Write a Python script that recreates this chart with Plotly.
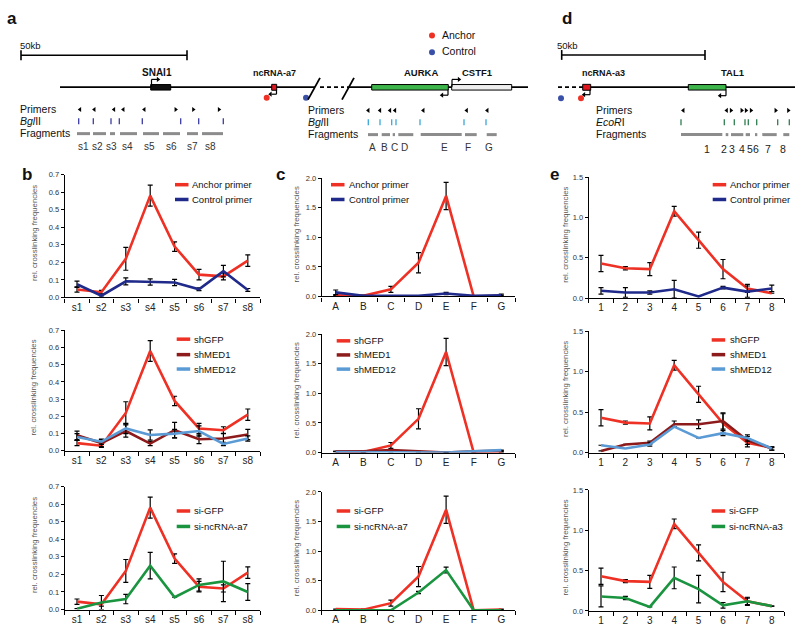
import plotly.graph_objects as go

# ---------------- data ----------------
b_cats = ["s1", "s2", "s3", "s4", "s5", "s6", "s7", "s8"]
b_anchor = [0.045, 0.03, 0.22, 0.58, 0.29, 0.13, 0.12, 0.21]
b_anchor_err = [0.015, 0.01, 0.065, 0.06, 0.027, 0.03, 0.02, 0.033]
b_control = [0.075, 0.01, 0.092, 0.088, 0.085, 0.047, 0.15, 0.043]
b_control_err = [0.018, 0.008, 0.02, 0.018, 0.018, 0.008, 0.033, 0.008]
b_shMED1 = [0.09, 0.045, 0.115, 0.042, 0.12, 0.067, 0.072, 0.095]
b_shMED1_err = [0.025, 0.02, 0.035, 0.012, 0.045, 0.025, 0.03, 0.03]
b_shMED12 = [0.08, 0.053, 0.13, 0.092, 0.1, 0.115, 0.04, 0.072]
b_shMED12_err = [0.02, 0.015, 0.03, 0.03, 0.025, 0.03, 0.01, 0.015]
b_si = [0.005, 0.04, 0.06, 0.25, 0.07, 0.14, 0.16, 0.1]
b_si_err = [0.0, 0.04, 0.027, 0.075, 0.0, 0.035, 0.115, 0.048]

c_cats = ["A", "B", "C", "D", "E", "F", "G"]
c_anchor = [0.02, 0.01, 0.12, 0.57, 1.7, 0.0, 0.01]
c_anchor_err = [0.0, 0.01, 0.05, 0.17, 0.23, 0.0, 0.01]
c_control = [0.07, 0.01, 0.01, 0.01, 0.05, 0.01, 0.02]
c_control_err = [0.04, 0.01, 0.0, 0.0, 0.02, 0.0, 0.02]
c_shMED1 = [0.02, 0.02, 0.04, 0.02, 0.0, 0.02, 0.03]
c_shMED12 = [0.01, 0.01, 0.01, 0.01, 0.0, 0.02, 0.04]
c_zero_err = [0, 0, 0, 0, 0, 0, 0]
c_si = [0.0, 0.0, 0.0, 0.3, 0.68, 0.0, 0.0]
c_si_err = [0, 0, 0, 0.02, 0.05, 0, 0]

e_cats = ["1", "2", "3", "4", "5", "6", "7", "8"]
e_anchor = [0.43, 0.37, 0.36, 1.08, 0.72, 0.36, 0.12, 0.06]
e_anchor_err = [0.1, 0.02, 0.08, 0.06, 0.1, 0.12, 0.05, 0.0]
e_control = [0.09, 0.07, 0.07, 0.11, 0.02, 0.13, 0.08, 0.12]
e_control_err = [0.04, 0.06, 0.02, 0.11, 0.0, 0.015, 0.07, 0.04]
e_shMED1 = [0.02, 0.1, 0.12, 0.35, 0.35, 0.39, 0.15, 0.05]
e_shMED1_err = [0, 0, 0.02, 0.04, 0.055, 0.1, 0.05, 0.02]
e_shMED12 = [0.09, 0.05, 0.1, 0.32, 0.18, 0.24, 0.18, 0.05]
e_shMED12_err = [0, 0, 0.02, 0, 0, 0.03, 0.04, 0.02]
e_si = [0.18, 0.16, 0.05, 0.41, 0.27, 0.07, 0.12, 0.06]
e_si_err = [0.13, 0.02, 0.0, 0.135, 0.17, 0.035, 0.04, 0]

RED = "#EE3124"
NAVY = "#1F2A8A"
MAROON = "#8E1B1B"
LBLUE = "#5B9BD5"
GREEN = "#1B9440"
FONT = "Arial, Liberation Sans, sans-serif"

W, H = 800, 633


def py(p):
    return 1 - p / H


panels = [
    dict(cats=b_cats, ymax=0.7, dtick=0.1, xpx=(64.8, 260), ypx=(173, 297.7),
         series=[("Anchor primer", b_anchor, b_anchor_err, RED),
                 ("Control primer", b_control, b_control_err, NAVY)],
         leg=(175, 190, [183.3, 198.3])),
    dict(cats=b_cats, ymax=0.7, dtick=0.1, xpx=(64.8, 260), ypx=(331, 453.3),
         series=[("shGFP", b_anchor, b_anchor_err, RED),
                 ("shMED1", b_shMED1, b_shMED1_err, MAROON),
                 ("shMED12", b_shMED12, b_shMED12_err, LBLUE)],
         leg=(176.7, 192, [340, 355.7, 370.3])),
    dict(cats=b_cats, ymax=0.7, dtick=0.1, xpx=(64.8, 260), ypx=(489.5, 614.3),
         series=[("si-GFP", b_anchor, b_anchor_err, RED),
                 ("si-ncRNA-a7", b_si, b_si_err, GREEN)],
         leg=(176.7, 192, [514.3, 530])),
    dict(cats=c_cats, ymax=2.0, dtick=0.5, xpx=(321.9, 515.1), ypx=(176.7, 296.7),
         series=[("Anchor primer", c_anchor, c_anchor_err, RED),
                 ("Control primer", c_control, c_control_err, NAVY)],
         leg=(331, 346.5, [183.3, 198.3])),
    dict(cats=c_cats, ymax=2.0, dtick=0.5, xpx=(321.9, 515.1), ypx=(335, 455),
         series=[("shGFP", c_anchor, c_anchor_err, RED),
                 ("shMED1", c_shMED1, c_zero_err, MAROON),
                 ("shMED12", c_shMED12, c_zero_err, LBLUE)],
         leg=(336.7, 352, [341.7, 356, 370.4])),
    dict(cats=c_cats, ymax=2.0, dtick=0.5, xpx=(321.9, 515.1), ypx=(495, 615),
         series=[("si-GFP", c_anchor, c_anchor_err, RED),
                 ("si-ncRNA-a7", c_si, c_si_err, GREEN)],
         leg=(336.7, 351.5, [514.3, 530])),
    dict(cats=e_cats, ymax=1.5, dtick=0.5, xpx=(588.8, 784), ypx=(176, 298.3),
         series=[("Anchor primer", e_anchor, e_anchor_err, RED),
                 ("Control primer", e_control, e_control_err, NAVY)],
         leg=(712.7, 727.5, [183.3, 198.3])),
    dict(cats=e_cats, ymax=1.5, dtick=0.5, xpx=(588.8, 784), ypx=(332, 455),
         series=[("shGFP", e_anchor, e_anchor_err, RED),
                 ("shMED1", e_shMED1, e_shMED1_err, MAROON),
                 ("shMED12", e_shMED12, e_shMED12_err, LBLUE)],
         leg=(711.7, 727.5, [340.8, 355.7, 370.3])),
    dict(cats=e_cats, ymax=1.5, dtick=0.5, xpx=(588.8, 784), ypx=(493, 615.7),
         series=[("si-GFP", e_anchor, e_anchor_err, RED),
                 ("si-ncRNA-a3", e_si, e_si_err, GREEN)],
         leg=(711.7, 726.5, [514.3, 530])),
]

fig = go.Figure()
layout = {}
shapes = []
annotations = []

for i, p in enumerate(panels, start=1):
    xa = "x" if i == 1 else f"x{i}"
    ya = "y" if i == 1 else f"y{i}"
    for name, vals, errs, color in p["series"]:
        fig.add_trace(go.Scatter(
            x=p["cats"], y=vals, mode="lines", name=name,
            line=dict(color=color, width=2.6),
            error_y=dict(type="data", array=errs, color="black", thickness=1.2, width=2.5),
            xaxis=xa, yaxis=ya, showlegend=False, cliponaxis=False, hoverinfo="skip"))
    n = len(p["cats"])
    layout["xaxis" if i == 1 else f"xaxis{i}"] = dict(
        domain=[p["xpx"][0] / W, p["xpx"][1] / W], anchor=ya, type="category",
        range=[-0.5, n - 0.5], showline=True, linecolor="black", linewidth=1.3,
        ticks="outside", tickson="boundaries", ticklen=4, tickcolor="black", tickwidth=1,
        tickfont=dict(size=10, color="#222", family=FONT), showgrid=False, zeroline=False,
        fixedrange=True)
    layout["yaxis" if i == 1 else f"yaxis{i}"] = dict(
        domain=[py(p["ypx"][1]), py(p["ypx"][0])], anchor=xa, range=[0, p["ymax"]],
        dtick=p["dtick"], tickformat=".1f", ticks="outside", ticklen=3, tickcolor="black",
        showline=True, linecolor="black", linewidth=1.3,
        tickfont=dict(size=7.5, color="#333", family=FONT), showgrid=False, zeroline=False,
        fixedrange=True)
    # legend drawn manually
    lx0, tx, ys = p["leg"]
    for (name, _, _, color), ly in zip(p["series"], ys):
        shapes.append(dict(type="line", xref="x10", yref="y10", x0=lx0, x1=lx0 + 13.5,
                           y0=ly, y1=ly, line=dict(color=color, width=3.5)))
        annotations.append(dict(xref="x10", yref="y10", x=tx, y=ly, text=name,
                                showarrow=False, xanchor="left", yanchor="middle",
                                font=dict(size=9.5, color="#111", family=FONT)))
    # y-axis title
    ytx = {0: 34, 1: 296, 2: 566}[(i - 1) // 3]
    yc = (p["ypx"][0] + p["ypx"][1]) / 2 - 3
    annotations.append(dict(xref="x10", yref="y10", x=ytx, y=yc,
                            text="rel. crosslinking frequencies", textangle=-90,
                            showarrow=False, xanchor="center", yanchor="middle",
                            font=dict(size=7.8, color="#555", family=FONT)))

# overlay axis in pixel coordinates for schematics
layout["xaxis10"] = dict(domain=[0, 1], range=[0, W], visible=False, fixedrange=True, anchor="y10")
layout["yaxis10"] = dict(domain=[0, 1], range=[H, 0], visible=False, fixedrange=True, anchor="x10")


def L(x0, y0, x1, y1, color="black", width=1.2, dash=None):
    d = dict(type="line", xref="x10", yref="y10", x0=x0, y0=y0, x1=x1, y1=y1,
             line=dict(color=color, width=width))
    if dash:
        d["line"]["dash"] = dash
    shapes.append(d)


def R(x0, y0, x1, y1, fill, lc="black", lw=1):
    shapes.append(dict(type="rect", xref="x10", yref="y10", x0=x0, y0=y0, x1=x1, y1=y1,
                       fillcolor=fill, line=dict(color=lc, width=lw)))


def T(x, y, text, size=10, bold=False, anchor="left", color="#111"):
    if bold:
        text = f"<b>{text}</b>"
    annotations.append(dict(xref="x10", yref="y10", x=x, y=y, text=text, showarrow=False,
                            xanchor=anchor, yanchor="middle",
                            font=dict(size=size, color=color, family=FONT)))


tri_l_x, tri_l_y, tri_r_x, tri_r_y = [], [], [], []

# panel labels
T(5, 15, "a", 17, True)
T(560, 15, "d", 17, True)
T(20, 173, "b", 17, True)
T(274, 173, "c", 17, True)
T(548, 173, "e", 17, True)

# ---- panel a ----
T(18, 42.5, "50kb", 9.5)
L(21, 52, 187, 52, width=1.6)
L(21, 47, 21, 57, width=1.6)
L(187, 47, 187, 57, width=1.6)

fig.add_trace(go.Scatter(x=[432, 432], y=[32, 49], mode="markers",
                         marker=dict(size=6, color=[RED, "#3A4FA8"]),
                         xaxis="x10", yaxis="y10", showlegend=False, hoverinfo="skip"))
T(440, 31, "Anchor", 10.5)
T(440, 48, "Control", 10.5)

T(157, 69.5, "SNAI1", 10, True, "center")
T(274, 69.5, "ncRNA-a7", 9, True, "center")
T(421, 69.5, "AURKA", 9.5, True, "center")
T(477, 69.5, "CSTF1", 9.5, True, "center")

# main line
L(60, 84.3, 315, 84.3, width=1.8)
L(320, 84.3, 344, 84.3, width=1.8, dash="4px,3px")
L(347, 84.3, 528, 84.3, width=1.8)
L(308, 97, 320, 75, width=1.8)
L(342, 97, 354, 75, width=1.8)

R(150.7, 81.7, 170.7, 87.3, "#111111")
R(271.7, 81.5, 276.7, 87.5, "#E0161E")
R(371.7, 81.7, 448.3, 87.3, "#3DB54A")
R(451.7, 81.7, 511.7, 87.3, "#EEEEEE")

# bent arrows
L(151.5, 84, 151.5, 76.5, width=1.2); L(151.5, 76.5, 157, 76.5, width=1.2)
tri_r_x.append(158); tri_r_y.append(76.5)
L(452, 84, 452, 76.5, width=1.2); L(452, 76.5, 458, 76.5, width=1.2)
tri_r_x.append(459); tri_r_y.append(76.5)
L(448, 87, 448, 92.5, width=1.2); L(448, 92.5, 443, 92.5, width=1.2)
tri_l_x.append(442); tri_l_y.append(92.5)
L(276.5, 87, 276.5, 91.5, width=1.2); L(276.5, 91.5, 271.5, 91.5, width=1.2)
tri_l_x.append(270.5); tri_l_y.append(91.5)

fig.add_trace(go.Scatter(x=[266.7, 306], y=[95, 95], mode="markers",
                         marker=dict(size=6, color=[RED, "#3A4FA8"]),
                         xaxis="x10", yaxis="y10", showlegend=False, hoverinfo="skip"))

# left track
T(18, 106.5, "Primers", 10.5)
T(18, 118.5, "<i>Bgl</i>II", 10.5)
T(18, 131, "Fragments", 10.5)
for x in [80, 94.3, 114, 123.3, 144.3]:
    tri_l_x.append(x); tri_l_y.append(107)
for x in [175.7, 193.3, 219]:
    tri_r_x.append(x); tri_r_y.append(107)
for x in [78.7, 93.3, 111, 119.3, 142.3, 180.7, 198.7, 223.3]:
    L(x, 116, x, 122, color="#3B3BA0", width=1.3)
for a, b in [(77, 90), (93, 106), (110, 115), (120, 137), (143, 159), (163, 180), (187, 198), (202, 223)]:
    L(a, 131.5, b, 131.5, color="#8C8C8C", width=3)
for lab, x in zip(b_cats, [83.3, 97.3, 111.7, 127.7, 149.7, 171, 192.7, 210.7]):
    T(x, 145, lab, 10, anchor="center", color="#333")

# right track of a
T(306, 108, "Primers", 10.5)
T(306, 120, "<i>Bgl</i>II", 10.5)
T(306, 132.3, "Fragments", 10.5)
for x in [368.3, 380, 390, 395, 423.3, 466.7, 487.3]:
    tri_l_x.append(x); tri_l_y.append(108)
for x in [368.3, 380, 391.7, 396, 420, 464, 486]:
    L(x, 117, x, 123, color="#3AA8D8", width=1.3)
for a, b in [(368, 378), (381.7, 390), (392.7, 395), (398.3, 413.3), (420.7, 461.7), (465, 476.7), (486.7, 496.7)]:
    L(a, 132.5, b, 132.5, color="#8C8C8C", width=3)
for lab, x in zip(c_cats, [372.3, 384, 394, 404, 444.3, 467.7, 489.3]):
    T(x, 146, lab, 10, anchor="center", color="#333")

# ---- panel d ----
T(555, 41.7, "50kb", 9.5)
L(561.7, 51.7, 705, 51.7, width=1.6)
L(561.7, 46.7, 561.7, 56.7, width=1.6)
L(705, 46.7, 705, 56.7, width=1.6)
T(603.3, 69.5, "ncRNA-a3", 9, True, "center")
T(733.3, 69.5, "TAL1", 9.5, True, "center")
L(558, 84.3, 582, 84.3, width=1.8, dash="4px,3px")
L(582, 84.3, 795, 84.3, width=1.8)
R(582.7, 81.5, 590.7, 87.5, "#E0161E")
R(688.3, 81.7, 726, 87.3, "#3DB54A")
L(590, 87, 590, 92, width=1.2); L(590, 92, 585, 92, width=1.2)
tri_l_x.append(584); tri_l_y.append(92)
L(726, 87, 726, 93, width=1.2); L(726, 93, 721, 93, width=1.2)
tri_l_x.append(720); tri_l_y.append(93)
fig.add_trace(go.Scatter(x=[561, 581], y=[95.7, 95.7], mode="markers",
                         marker=dict(size=6, color=["#3A4FA8", RED]),
                         xaxis="x10", yaxis="y10", showlegend=False, hoverinfo="skip"))
T(594, 107.7, "Primers", 10.5)
T(594, 120, "<i>EcoR</i>I", 10.5)
T(594, 132.3, "Fragments", 10.5)
for x in [683.3, 726.7]:
    tri_l_x.append(x); tri_l_y.append(108)
for x in [731, 741.7, 746, 751, 775.7, 788.3]:
    tri_r_x.append(x); tri_r_y.append(108)
for x in [681, 724.3, 734.3, 745, 748.3, 756.7, 777.7, 789.3]:
    L(x, 117, x, 123, color="#2E7D4F", width=1.3)
for a, b in [(681, 722.3), (725.7, 728.3), (731, 743.3), (745.7, 750), (755, 757.3), (762.3, 776.7), (783.3, 789.3)]:
    L(a, 132.5, b, 132.5, color="#8C8C8C", width=3)
for lab, x in zip(e_cats, [706.7, 724, 732, 741.7, 749.5, 756, 768.3, 783.3]):
    T(x, 146.7, lab, 10.5, anchor="center", color="#222")

fig.add_trace(go.Scatter(x=tri_l_x, y=tri_l_y, mode="markers",
                         marker=dict(symbol="triangle-left", size=4.5, color="black"),
                         xaxis="x10", yaxis="y10", showlegend=False, hoverinfo="skip"))
fig.add_trace(go.Scatter(x=tri_r_x, y=tri_r_y, mode="markers",
                         marker=dict(symbol="triangle-right", size=4.5, color="black"),
                         xaxis="x10", yaxis="y10", showlegend=False, hoverinfo="skip"))

fig.update_layout(
    width=W, height=H, margin=dict(l=0, r=0, t=0, b=0),
    paper_bgcolor="white", plot_bgcolor="rgba(0,0,0,0)",
    font=dict(family=FONT), showlegend=False,
    shapes=shapes, annotations=annotations, **layout)

fig.write_html("out.html", config={"displayModeBar": False},
               post_script="document.body.style.margin='0';document.body.style.overflow='hidden';")
